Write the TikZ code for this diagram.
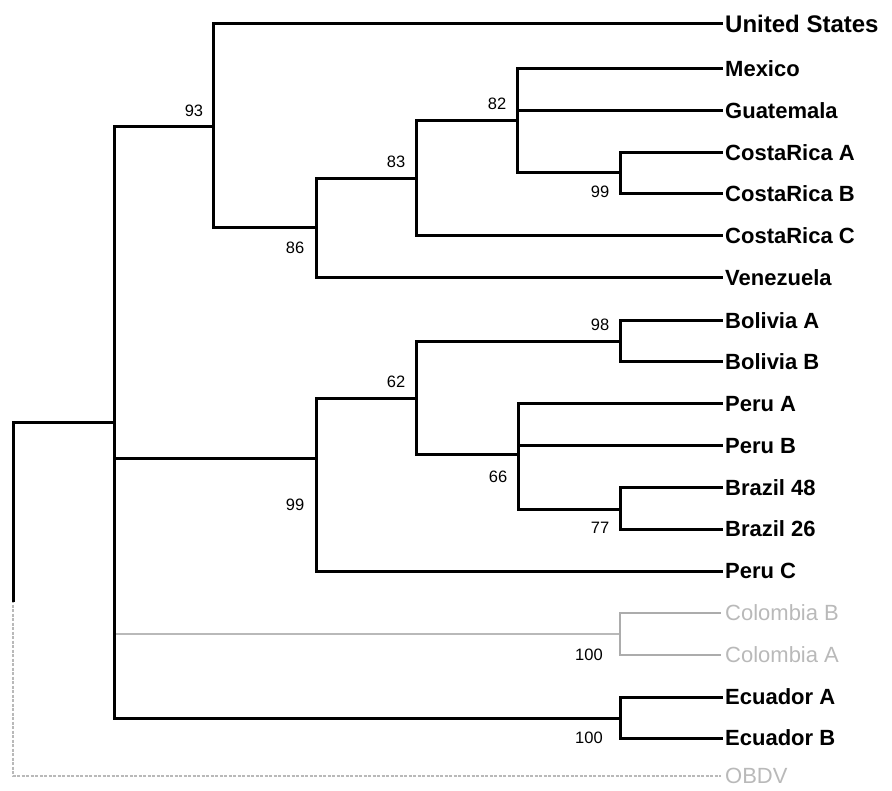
\documentclass[tikz,border=0pt]{standalone}
\usepackage{fontspec}
\setmainfont{Liberation Sans}
\usetikzlibrary{positioning}
\tikzstyle{leaf}=[anchor=west,inner xsep=4pt,inner ysep=1pt,font=\bfseries\fontsize{22}{22}\selectfont]
\tikzstyle{pale}=[leaf,font=\fontsize{22}{22}\selectfont,text=gray!55]
\tikzstyle{boot}=[inner sep=0pt,font=\fontsize{16.5}{16.5}\selectfont]
\tikzstyle{branch}=[line width=3pt,line cap=rect]
\tikzstyle{faint}=[line width=1.3pt,gray!55]

\begin{document}
\begin{tikzpicture}[x=1pt,y=-1pt]
    \useasboundingbox (0,0) rectangle (892,791);

    % leaves
    \node[leaf,font=\bfseries\fontsize{24}{24}\selectfont] (us) at (721,24) {United States};
    \node[leaf] (mex) at (721,69) {Mexico};
    \node[leaf] (gua) at (721,111) {Guatemala};
    \node[leaf] (cra) at (721,153) {CostaRica A};
    \node[leaf] (crb) at (721,194) {CostaRica B};
    \node[leaf] (crc) at (721,236) {CostaRica C};
    \node[leaf] (ven) at (721,278) {Venezuela};
    \node[leaf] (bola) at (721,321) {Bolivia A};
    \node[leaf] (bolb) at (721,362) {Bolivia B};
    \node[leaf] (pera) at (721,404) {Peru A};
    \node[leaf] (perb) at (721,446) {Peru B};
    \node[leaf] (bra48) at (721,488) {Brazil 48};
    \node[leaf] (bra26) at (721,529) {Brazil 26};
    \node[leaf] (perc) at (721,571) {Peru C};
    \node[pale] (colb) at (721,613) {Colombia B};
    \node[pale] (cola) at (721,655) {Colombia A};
    \node[leaf] (ecua) at (721,697) {Ecuador A};
    \node[leaf] (ecub) at (721,738) {Ecuador B};
    \node[pale] (obdv) at (721,776) {OBDV};

    % inner nodes
    \coordinate (root) at (13,423);
    \coordinate (fade) at (13,600);
    \coordinate (base) at (114,423);
    \coordinate (n93) at (213,127);
    \coordinate (n86) at (316,228);
    \coordinate (n83) at (416,179);
    \coordinate (n82) at (517,121);
    \coordinate (ncr) at (620,173);
    \coordinate (nsa) at (316,459);
    \coordinate (n62) at (416,399);
    \coordinate (nbol) at (620,342);
    \coordinate (n66) at (518,455);
    \coordinate (nbra) at (620,509);
    \coordinate (ncol) at (620,634);
    \coordinate (necu) at (620,718);

    % faded part
    \draw[faint] (base) |- (ncol);
    \draw[faint,line width=2pt,gray!65] (ncol) |- (colb.west);
    \draw[faint,line width=2pt,gray!65] (ncol) |- (cola.west);
    \draw[faint,dash pattern=on 3pt off 1.5pt] (fade) |- (obdv.west);

    % tree
    \draw[branch] (root) -- (base);
    \draw[branch] (root) -- (fade);
    \draw[branch] (base) |- (n93);
    \draw[branch] (base) |- (nsa);
    \draw[branch] (base) |- (necu);
    \draw[branch] (n93) |- (us.west);
    \draw[branch] (n93) |- (n86);
    \draw[branch] (n86) |- (n83);
    \draw[branch] (n86) |- (ven.west);
    \draw[branch] (n83) |- (n82);
    \draw[branch] (n83) |- (crc.west);
    \draw[branch] (n82) |- (mex.west);
    \draw[branch] (n82) |- (gua.west);
    \draw[branch] (n82) |- (ncr);
    \draw[branch] (ncr) |- (cra.west);
    \draw[branch] (ncr) |- (crb.west);
    \draw[branch] (nsa) |- (n62);
    \draw[branch] (nsa) |- (perc.west);
    \draw[branch] (n62) |- (nbol);
    \draw[branch] (n62) |- (n66);
    \draw[branch] (nbol) |- (bola.west);
    \draw[branch] (nbol) |- (bolb.west);
    \draw[branch] (n66) |- (pera.west);
    \draw[branch] (n66) |- (perb.west);
    \draw[branch] (n66) |- (nbra);
    \draw[branch] (nbra) |- (bra48.west);
    \draw[branch] (nbra) |- (bra26.west);
    \draw[branch] (necu) |- (ecua.west);
    \draw[branch] (necu) |- (ecub.west);

    % bootstrap values
    \node[boot] (b93) at (194,111) {93};
    \node[boot] (b86) at (295,248) {86};
    \node[boot] (b83) at (396,162) {83};
    \node[boot] (b82) at (497,104) {82};
    \node[boot] (bcr) at (600,192) {99};
    \node[boot] (bsa) at (295,505) {99};
    \node[boot] (b62) at (396,382) {62};
    \node[boot] (bbol) at (600,325) {98};
    \node[boot] (b66) at (498,477) {66};
    \node[boot] (bbra) at (600,528) {77};
    \node[boot] (bcol) at (589,655) {100};
    \node[boot] (becu) at (589,738) {100};
\end{tikzpicture}
\end{document}
